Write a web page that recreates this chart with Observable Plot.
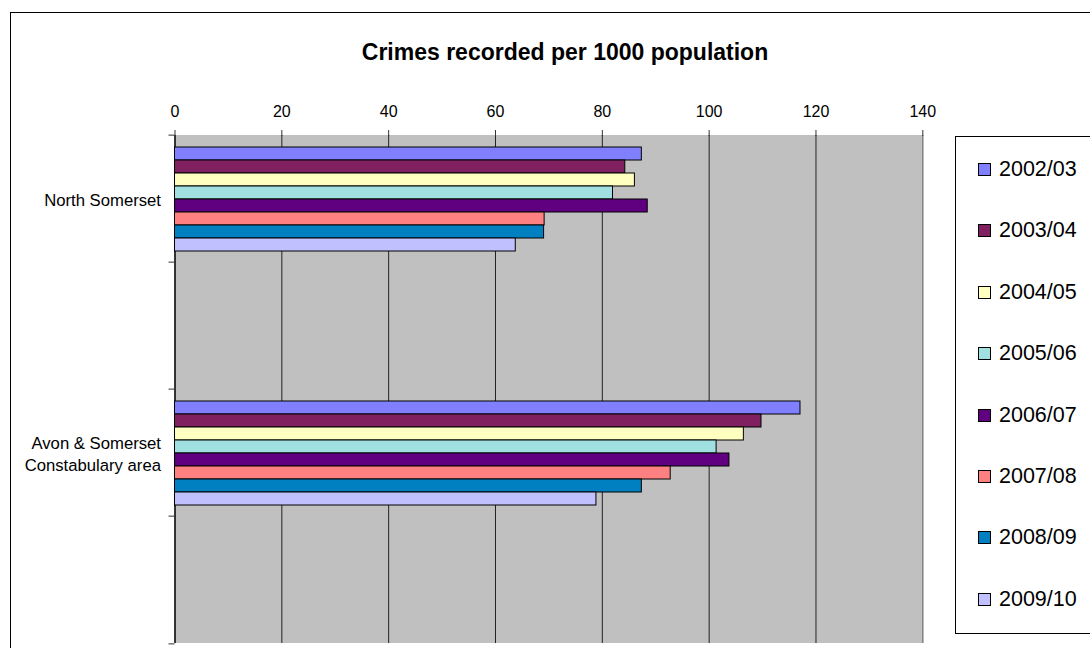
<!DOCTYPE html>
<html>
<head>
<meta charset="utf-8">
<script src="https://cdn.jsdelivr.net/npm/d3@7"></script>
<script src="https://cdn.jsdelivr.net/npm/@observablehq/plot@0.6"></script>
<style>
  body { margin: 0; background: #fff; }
  #chart { position: relative; width: 1090px; height: 648px; overflow: hidden; background: #fff;
           font-family: "Liberation Sans", Arial, sans-serif; color: #000; }
  #border { position: absolute; left: 10px; top: 12px; width: 1300px; height: 900px;
            border-left: 1px solid #000; border-top: 1px solid #000; }
  #title { position: absolute; left: 10px; width: 1110px; top: 38px; text-align: center;
           font-weight: bold; font-size: 23px; line-height: 28px; }
  #plot { position: absolute; left: 0; top: 0; }
  #legend { position: absolute; left: 955px; top: 136px; width: 300px; height: 496px;
            border: 1px solid #000; background: #fff; }
  .item { position: absolute; left: 22px; height: 24px; display: flex; align-items: center;
          font-size: 21.5px; white-space: nowrap; }
  .sw { width: 11px; height: 11px; border: 1px solid #000; margin-right: 8px; flex: none; }
</style>
</head>
<body>
<div id="chart">
  <div id="border"></div>
  <div id="plot"></div>
  <div id="title">Crimes recorded per 1000 population</div>
  <div id="legend"></div>
</div>
<script>
// ---- data ----
const categories = ["North Somerset", "blank-1", "Avon & Somerset Constabulary area", "blank-2"];
const categoryLabels = ["North Somerset", "", "Avon & Somerset\nConstabulary area", ""];
const seasons = ["2002/03", "2003/04", "2004/05", "2005/06", "2006/07", "2007/08", "2008/09", "2009/10"];
const northSomerset = [87.4, 84.3, 86.1, 82.0, 88.5, 69.2, 69.1, 63.8];
const avonSomerset = [117.1, 109.8, 106.5, 101.4, 103.8, 92.8, 87.4, 78.9];
const seasonColors = ["#8080ff", "#802060", "#ffffc0", "#a0e0e0", "#600080", "#ff8080", "#0080c0", "#c0c0ff"];
const xTicks = [0, 20, 40, 60, 80, 100, 120, 140];

const rows = [
  ...northSomerset.map((v, i) => ({category: categories[0], season: seasons[i], value: v})),
  ...avonSomerset.map((v, i) => ({category: categories[2], season: seasons[i], value: v}))
];

// ---- layout ----
const W = 1090, H = 648;
const mTop = 133, mBottom = 4, mLeft = 174.5, mRight = 167.7;
const fyStep = (H - mTop - mBottom) / categories.length;

const plot = Plot.plot({
  width: W, height: H,
  marginTop: mTop, marginBottom: mBottom, marginLeft: mLeft, marginRight: mRight,
  style: {fontFamily: '"Liberation Sans", Arial, sans-serif', fontSize: "16px", background: "transparent", color: "#000"},
  x: {domain: [xTicks[0], xTicks[xTicks.length - 1]], axis: null},
  y: {domain: seasons, paddingInner: 0, paddingOuter: 0.76, axis: null},
  fy: {domain: categories, padding: 0, axis: null},
  color: {domain: seasons, range: seasonColors},
  marks: [
    Plot.rect(categories, {fy: d => d, x1: () => xTicks[0], x2: () => xTicks[xTicks.length - 1], fill: "#c0c0c0"}),
    Plot.ruleX(xTicks.slice(1, -1), {stroke: "#222", strokeWidth: 1}),
    Plot.ruleX([xTicks[xTicks.length - 1]], {stroke: "#808080", strokeWidth: 1.5}),
    Plot.ruleX([xTicks[0]], {stroke: "#000", strokeWidth: 1.5}),
    Plot.barX(rows, {fy: "category", y: "season", x: "value", fill: "season", stroke: "#000", strokeWidth: 1}),
    Plot.axisX({anchor: "top", ticks: xTicks, tickSize: 6, tickPadding: 13, fontSize: 16, label: null, line: true, stroke: "#333"}),
    Plot.axisX({anchor: "bottom", ticks: [], tickSize: 0, label: null, line: true, stroke: "#808080"}),
    Plot.axisFy({anchor: "left", ticks: categories, tickSize: 6, tickFormat: () => "", label: null, dy: -fyStep / 2, stroke: "#333"}),
    Plot.axisFy({anchor: "left", ticks: [categories[categories.length - 1]], tickSize: 6, tickFormat: () => "", label: null, dy: fyStep / 2, stroke: "#333"}),
    Plot.text(categories, {fy: d => d, text: (d, i) => categoryLabels[i], frameAnchor: "left", dx: -14,
                           textAnchor: "end", lineHeight: 1.3, fontSize: 16.7, fill: "#000"})
  ]
});
document.getElementById("plot").appendChild(plot);

// ---- legend ----
const legend = document.getElementById("legend");
const color = plot.scale("color");
seasons.forEach((s, i) => {
  const item = document.createElement("div");
  item.className = "item";
  item.style.top = (20.5 + i * 61.4) + "px";
  const sw = document.createElement("div");
  sw.className = "sw";
  sw.style.background = color.apply(s);
  item.appendChild(sw);
  item.appendChild(document.createTextNode(s));
  legend.appendChild(item);
});
</script>
</body>
</html>
